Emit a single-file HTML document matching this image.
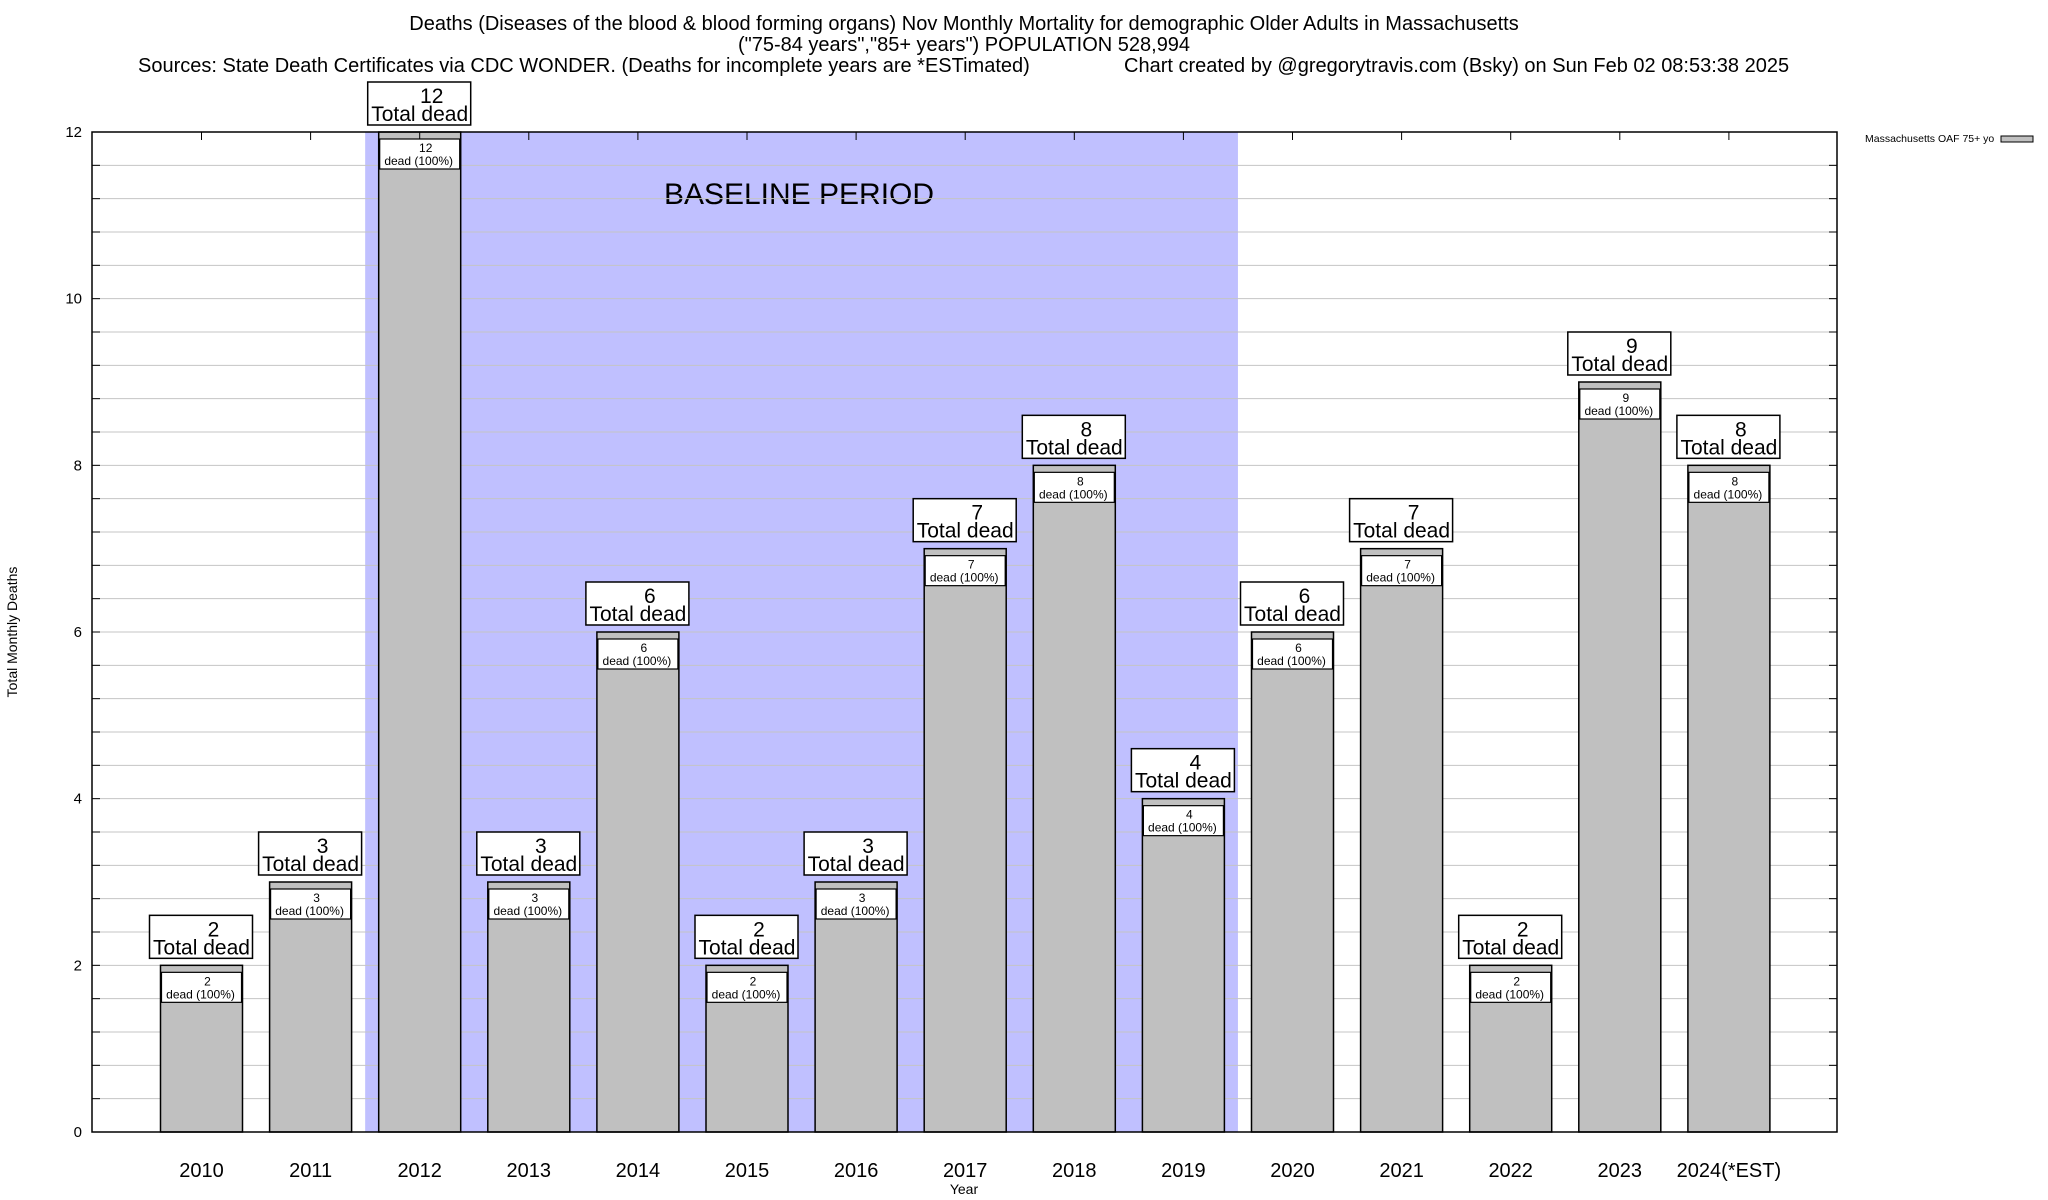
<!DOCTYPE html>
<html><head><meta charset="utf-8"><style>
html,body{margin:0;padding:0;background:#fff}
svg{display:block;font-family:"Liberation Sans",Arial,sans-serif}
</style></head><body>
<svg id="chart" width="2048" height="1200" viewBox="0 0 2048 1200" xmlns="http://www.w3.org/2000/svg">
<g font-size="20" fill="#000">
<text x="964" y="30" text-anchor="middle">Deaths (Diseases of the blood &amp; blood forming organs) Nov Monthly Mortality for demographic Older Adults in Massachusetts</text>
<text x="964" y="51" text-anchor="middle">("75-84 years","85+ years") POPULATION 528,994</text>
<text x="138" y="72">Sources: State Death Certificates via CDC WONDER. (Deaths for incomplete years are *ESTimated)</text>
<text x="1124" y="72">Chart created by @gregorytravis.com (Bsky) on Sun Feb 02 08:53:38 2025</text>
</g>
<g id="plot"></g>
<text x="17" y="632" transform="rotate(-90 17 632)" text-anchor="middle" font-size="14">Total Monthly Deaths</text>
<text x="964" y="1194" text-anchor="middle" font-size="14">Year</text>
<g>
<text x="1865" y="142" font-size="10.5">Massachusetts OAF 75+ yo</text>
<rect x="2001" y="136" width="32" height="6" fill="#c0c0c0" stroke="#000" stroke-width="1"/>
</g>
</svg>
<script>
const categories = ["2010","2011","2012","2013","2014","2015","2016","2017","2018","2019","2020","2021","2022","2023","2024(*EST)"];
const deaths = [2,3,12,3,6,2,3,7,8,4,6,7,2,9,8];
const yTicks = [0,2,4,6,8,10,12];
const baselineStart = "2012";
const baselineEnd = "2019";

const NS="http://www.w3.org/2000/svg";
const plot=document.getElementById('plot');
const L=92,R=1837,T=132,B=1132,yMax=12;
const step=109.1, c0=201.5, bw=82;
const xC=i=>c0+i*step;
const yS=v=>B-(v/yMax)*(B-T);
function mk(tag,attrs,parent){const e=document.createElementNS(NS,tag);for(const k in attrs)e.setAttribute(k,attrs[k]);(parent||plot).appendChild(e);return e;}

const si=categories.indexOf(baselineStart), ei=categories.indexOf(baselineEnd);
const shade=mk('rect',{x:xC(si)-step/2,y:T,width:(ei-si+1)*step,height:B-T,fill:'#c0c0ff'});


const bl=mk('text',{x:799,y:204,'font-size':30,'text-anchor':'middle'});
bl.textContent='BASELINE PERIOD';



for(let v=0.4;v<yMax-0.01;v+=0.4){
  const g=mk('line',{x1:L,x2:R,y1:yS(v),y2:yS(v),stroke:'#c4c4c4','stroke-width':1});
  
  
  mk('line',{x1:L,x2:L+8,y1:yS(v),y2:yS(v),stroke:'#000'});
  mk('line',{x1:R-8,x2:R,y1:yS(v),y2:yS(v),stroke:'#000'});
}
yTicks.forEach(v=>{
  const t=mk('text',{x:82,y:yS(v)+5,'font-size':15,'text-anchor':'end'});
  t.textContent=v;
  
  
});

categories.forEach((c,i)=>{
  const v=deaths[i], x=xC(i)-bw/2, y=yS(v);
  const b=mk('rect',{x:x,y:y,width:bw,height:B-y,fill:'#c0c0c0',stroke:'#000','stroke-width':1.5});
  
  
  mk('line',{x1:xC(i),x2:xC(i),y1:T,y2:T+8,stroke:'#000'});
  const inner=mk('rect',{x:x+1,y:y+7,width:bw-2,height:30,fill:'#fff',stroke:'#000','stroke-width':1.2});
  
  
  const t1=mk('text',{x:xC(i)+6,y:y+20,'font-size':12,'text-anchor':'middle'});t1.textContent=v;
  
  
  const t2=mk('text',{x:xC(i)-1,y:y+33,'font-size':12,'text-anchor':'middle'});t2.textContent='dead (100%)';
  
  
  const ob=mk('rect',{x:xC(i)-52,y:y-50,width:103,height:43,fill:'#fff',stroke:'#000','stroke-width':1.5});
  
  
  const o1=mk('text',{x:xC(i)+12,y:y-29,'font-size':21,'text-anchor':'middle'});o1.textContent=v;
  
  
  const o2=mk('text',{x:xC(i),y:y-11,'font-size':21,'text-anchor':'middle'});o2.textContent='Total dead';
  
  
  const xl=mk('text',{x:xC(i),y:1177,'font-size':20,'text-anchor':'middle'});xl.textContent=c;
  
  
});

const fr=mk('rect',{x:L,y:T,width:R-L,height:B-T,fill:'none',stroke:'#000','stroke-width':1.5});


</script>
</body></html>
